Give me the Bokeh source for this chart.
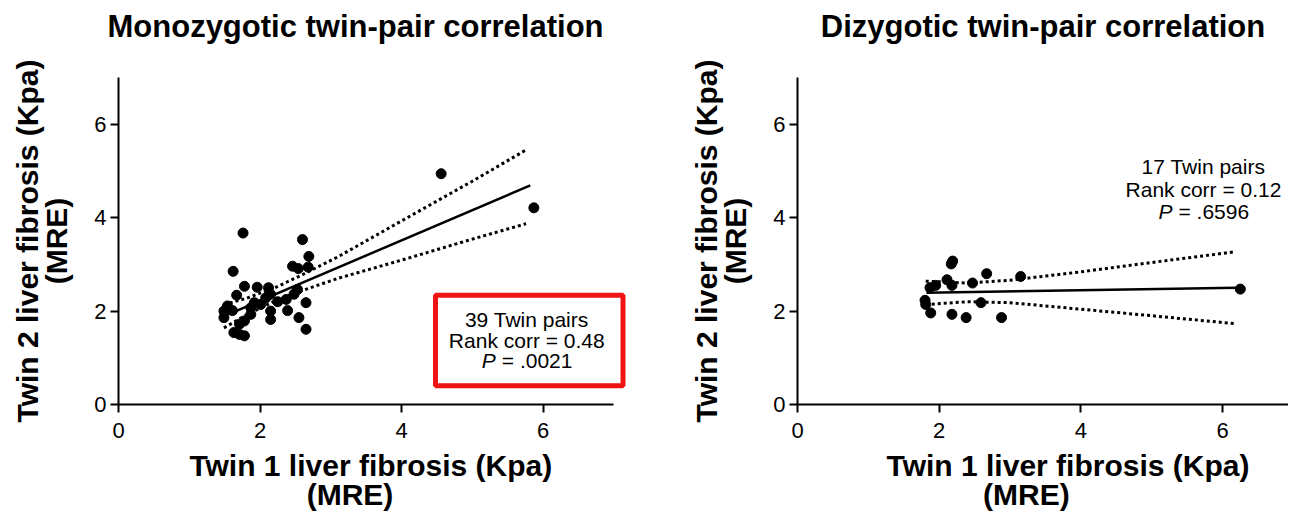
from bokeh.plotting import figure
from bokeh.layouts import row
from bokeh.models import Label, BoxAnnotation, Range1d, FixedTicker
from bokeh.embed import file_html
from bokeh.resources import INLINE

# ---- Monozygotic twin pairs (Twin 1 vs Twin 2, kPa) ----
mz_twin1 = [4.56, 5.87, 1.76, 2.60, 2.69, 1.62, 2.46, 2.54, 2.68, 1.78, 1.96, 2.12, 1.67,
            2.08, 2.15, 2.53, 2.48, 2.37, 2.65, 1.92, 2.01, 1.54, 1.49, 1.61, 2.15, 2.39,
            1.87, 1.49, 2.15, 1.78, 2.55, 2.65, 1.63, 1.71, 1.78, 1.71, 1.87, 1.55, 2.25]
mz_twin2 = [4.94, 4.21, 3.67, 3.53, 3.17, 2.85, 2.96, 2.91, 2.94, 2.53, 2.51, 2.50, 2.34,
            2.28, 2.36, 2.46, 2.36, 2.25, 2.18, 2.18, 2.14, 2.11, 2.00, 2.01, 2.00, 2.01,
            1.93, 1.86, 1.82, 1.79, 1.86, 1.61, 1.54, 1.50, 1.47, 1.72, 2.07, 2.05, 2.20]
mz_fit_x = [1.49, 5.82]
mz_fit_y = [1.89, 4.69]
mz_ci_x = [1.49, 1.8, 2.2, 2.6, 3.1, 4.0, 5.0, 5.76]
mz_ci_upper = [2.14, 2.27, 2.49, 2.78, 3.16, 3.93, 4.78, 5.45]
mz_ci_lower = [1.64, 1.91, 2.21, 2.44, 2.70, 3.09, 3.54, 3.87]

# ---- Dizygotic twin pairs ----
dz_twin1 = [2.17, 2.19, 1.87, 1.95, 2.11, 2.18, 2.47, 2.67, 3.15, 1.80, 1.81, 2.59, 1.88,
            2.18, 2.38, 2.88, 6.25]
dz_twin2 = [3.01, 3.07, 2.50, 2.55, 2.67, 2.55, 2.60, 2.80, 2.74, 2.23, 2.14, 2.18, 1.96,
            1.93, 1.86, 1.86, 2.47]
dz_fit_x = [1.82, 6.20]
dz_fit_y = [2.39, 2.50]
dz_ci_x = [1.81, 2.4, 3.0, 4.0, 5.0, 6.18]
dz_ci_upper = [2.64, 2.60, 2.66, 2.84, 3.04, 3.27]
dz_ci_lower = [2.14, 2.20, 2.18, 2.04, 1.90, 1.73]

tick_values = [0, 2, 4, 6]
FONT = "Liberation Sans"
NB = "\u00a0"


def make_fig(title, width, mb_left, mb_right, xmax, xbounds, xlabel):
    p = figure(width=width, height=516, output_backend="svg", toolbar_location=None,
               x_range=Range1d(0, xmax), y_range=Range1d(0, 7),
               min_border_left=mb_left, min_border_right=mb_right,
               min_border_top=77, min_border_bottom=112, title=title + "\n")
    p.outline_line_color = None
    p.grid.visible = False
    p.title.text_font = FONT
    p.title.text_font_size = "31px"
    p.title.text_font_style = "bold"
    p.title.text_color = "black"
    p.title.text_line_height = 0.82
    for ax in (p.xaxis[0], p.yaxis[0]):
        ax.ticker = FixedTicker(ticks=tick_values)
        ax.minor_tick_line_color = None
        ax.major_tick_in = 0
        ax.major_tick_out = 8
        ax.axis_line_width = 2
        ax.major_tick_line_width = 2
        ax.axis_line_color = "black"
        ax.major_tick_line_color = "black"
        ax.major_label_text_font = FONT
        ax.major_label_text_font_size = "22px"
        ax.major_label_text_color = "black"
        ax.axis_label_text_font = FONT
        ax.axis_label_text_font_size = "30px"
        ax.axis_label_text_font_style = "bold"
        ax.axis_label_text_color = "black"
        ax.axis_label_text_line_height = 0.9
    p.xaxis[0].bounds = xbounds
    p.xaxis[0].axis_label = xlabel
    p.yaxis[0].axis_label = "Twin 2 liver fibrosis (Kpa)\n(MRE)"
    p.xaxis[0].major_label_standoff = 10
    p.yaxis[0].major_label_standoff = 4
    p.xaxis[0].axis_label_standoff = 8
    p.yaxis[0].axis_label_standoff = 18
    return p


def add_stats(p, xc, ys, lines):
    for (txt, y) in zip(lines[:2], ys[:2]):
        p.add_layout(Label(x=xc, y=y, text=txt, text_align="center", text_baseline="middle",
                           text_font=FONT, text_font_size="21px", text_color="black"))
    p.add_layout(Label(x=xc, y=ys[2], x_offset=-45, text="P", text_align="left",
                       text_baseline="middle", text_font=FONT, text_font_size="21px",
                       text_font_style="italic", text_color="black"))
    p.add_layout(Label(x=xc, y=ys[2], x_offset=-25, text=lines[2], text_align="left",
                       text_baseline="middle", text_font=FONT, text_font_size="21px",
                       text_color="black"))


# Left panel
p1 = make_fig("Monozygotic twin-pair correlation", 658, 118, 27, 7.25, (0, 7),
              "Twin 1 liver fibrosis (Kpa) \n(MRE)      ")
p1.title.align = "left"
p1.title.offset = -11
p1.line(mz_ci_x, mz_ci_upper, line_color="black", line_width=3, line_dash="3 3")
p1.line(mz_ci_x, mz_ci_lower, line_color="black", line_width=3, line_dash="3 3")
p1.line(mz_fit_x, mz_fit_y, line_color="black", line_width=2.5)
p1.scatter(mz_twin1, mz_twin2, size=10, color="black")
p1.add_layout(BoxAnnotation(left=4.48, right=7.13, bottom=0.40, top=2.34,
                            fill_color=None, line_color="#f01414", line_width=5,
                            line_alpha=1.0))
add_stats(p1, 5.77, [1.83, 1.36, 0.94], ["39 Twin pairs", "Rank corr = 0.48", "= .0021"])

# Right panel
p2 = make_fig("Dizygotic twin-pair correlation", 630, 139, 0, 6.93, (0, 6.93),
              NB * 6 + "Twin 1 liver fibrosis (Kpa)\n(MRE)    ")
p2.title.align = "center"
p2.line(dz_ci_x, dz_ci_upper, line_color="black", line_width=3, line_dash="3 3")
p2.line(dz_ci_x, dz_ci_lower, line_color="black", line_width=3, line_dash="3 3")
p2.line(dz_fit_x, dz_fit_y, line_color="black", line_width=2.5)
p2.scatter(dz_twin1, dz_twin2, size=10, color="black")
add_stats(p2, 5.73, [5.09, 4.60, 4.13], ["17 Twin pairs", "Rank corr = 0.12", "= .6596"])

layout = row(p1, p2)
open("out.html", "w").write(file_html(layout, INLINE))
